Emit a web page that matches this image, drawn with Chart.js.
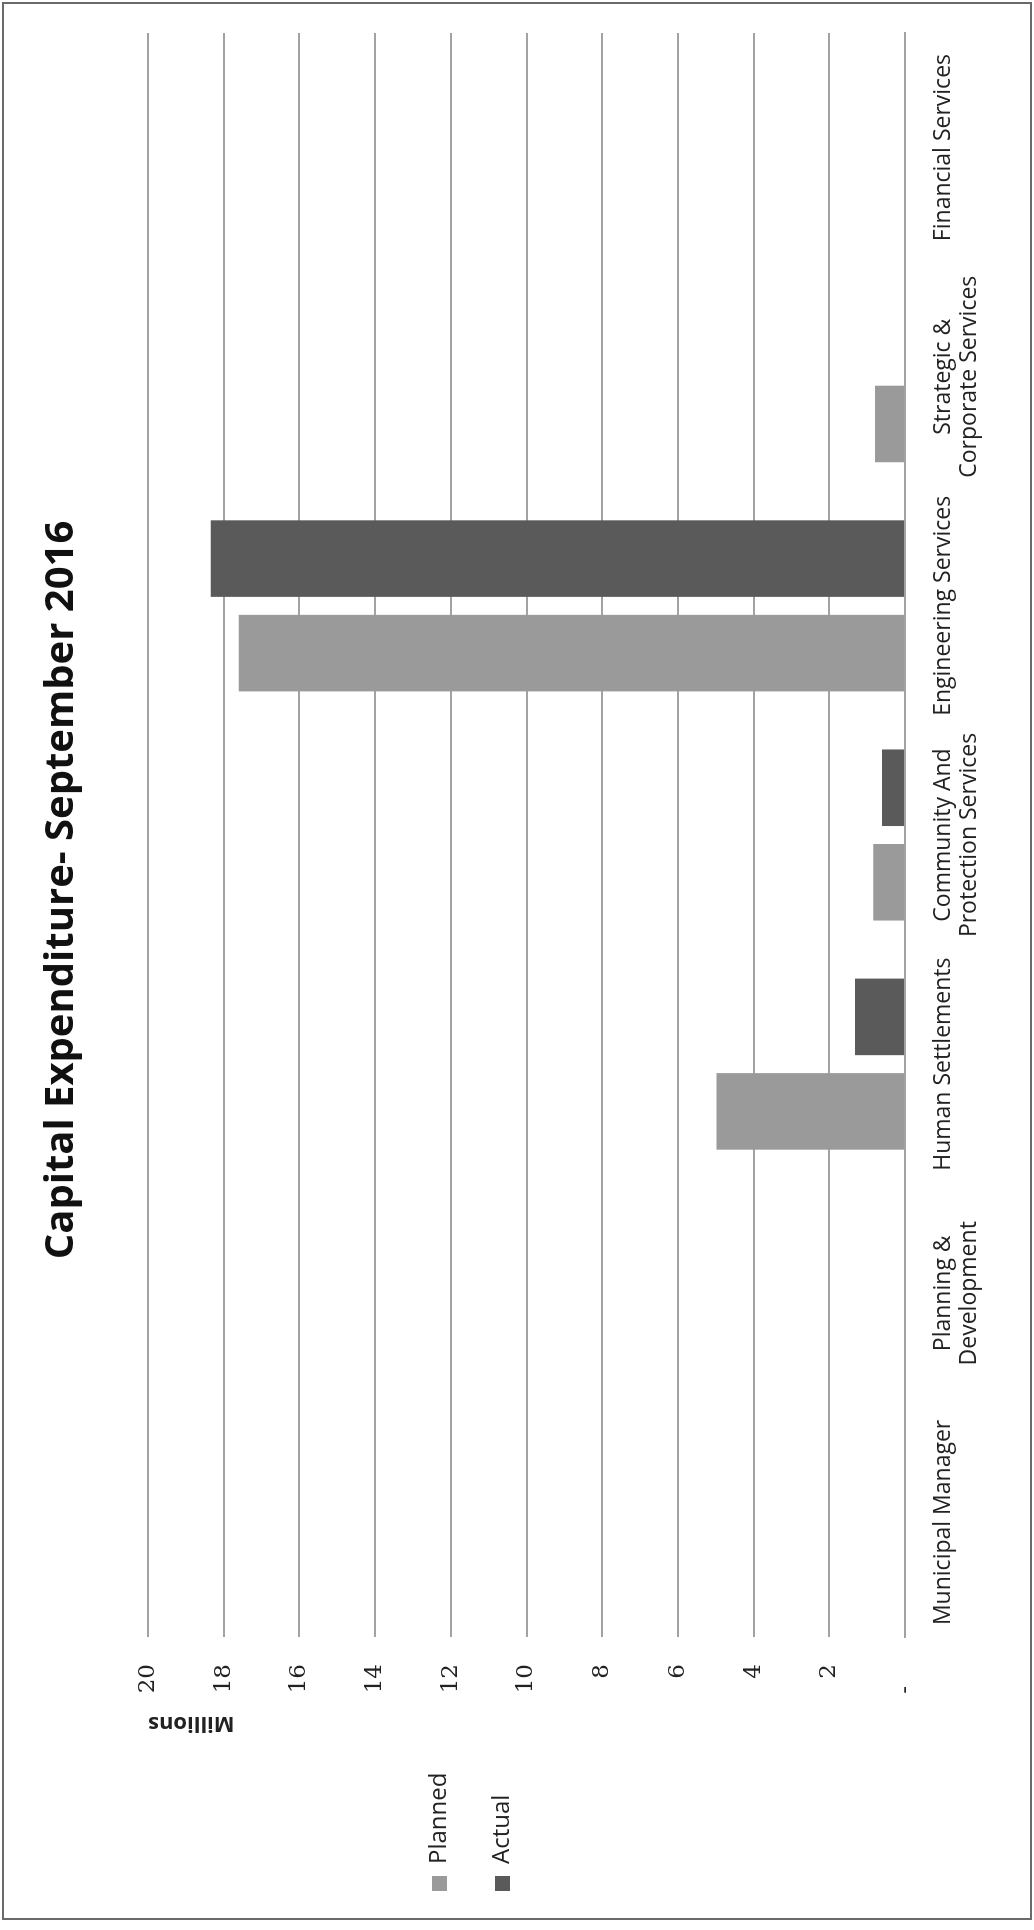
<!DOCTYPE html>
<html>
<head>
<meta charset="utf-8">
<title>Capital Expenditure - September 2016</title>
<script src="https://cdn.jsdelivr.net/npm/chart.js@4.4.1/dist/chart.umd.min.js"></script>
<style>
  html, body { margin: 0; padding: 0; background: #fff; overflow: hidden; }
  #page { position: relative; width: 1034px; height: 1930px; }
  #frame { position: absolute; left: 2px; top: 2px; width: 1030px; height: 1918px;
           box-sizing: border-box; border: 2px solid #6a6a6a; }
  /* the sheet is laid out landscape and turned a quarter to the left */
  #sheet { position: absolute; left: 0; top: 0; width: 1930px; height: 1034px;
           transform-origin: 0 0; transform: translateY(1930px) rotate(-90deg); }
</style>
</head>
<body>
<div id="page">
  <div id="sheet"><canvas id="capexChart" width="1930" height="1034"></canvas></div>
  <div id="frame"></div>
</div>
<script>
// --- data (millions) ---
const departments = [
    'Municipal Manager',
    ['Planning &', 'Development'],
    'Human Settlements',
    ['Community And', 'Protection Services'],
    'Engineering Services',
    ['Strategic &', 'Corporate Services'],
    'Financial Services'
];
const plannedSpend = [0, 0, 4.98, 0.84, 17.6, 0.79, 0];
const actualSpend  = [0, 0, 1.32, 0.61, 18.34, 0, 0];
const seriesNames  = ['Planned', 'Actual'];
const axisMax = 20;
const axisStep = 2;

// --- layout targets on the landscape sheet ---
const PLOT_LEFT = 293;
const PLOT_BOTTOM = 905;
const TITLE_CENTER_X = 1040;
const LEGEND_SHIFT = -46;

const GRID = '#a2a2a2';
const TEXT = '#222';

// moves the title and legend after Chart.js has done its layout
const nudgeBoxes = {
    id: 'nudgeBoxes',
    afterLayout(chart) {
        const t = chart.titleBlock;
        if (t) {
            const d = TITLE_CENTER_X - (t.left + t.right) / 2;
            t.left += d; t.right += d;
        }
        const lg = chart.legend;
        if (lg) { lg.top += LEGEND_SHIFT; lg.bottom += LEGEND_SHIFT; }
    }
};

const ctx = document.getElementById('capexChart').getContext('2d');
const capexChart = new Chart(ctx, {
    type: 'bar',
    data: {
        labels: departments,
        datasets: [
            { label: seriesNames[0], data: plannedSpend, backgroundColor: '#9a9a9a' },
            { label: seriesNames[1], data: actualSpend, backgroundColor: '#5a5a5a' }
        ]
    },
    options: {
        responsive: false,
        animation: false,
        devicePixelRatio: 1,
        categoryPercentage: 0.825,
        barPercentage: 0.81,
        layout: { padding: { left: 0, right: 33, top: 0, bottom: 0 } },
        scales: {
            x: {
                grid: { display: false, drawTicks: false },
                border: { display: true, color: GRID, width: 2 },
                ticks: {
                    padding: 26,
                    maxRotation: 0,
                    autoSkip: false,
                    color: TEXT,
                    font: { family: 'Open Sans', size: 23, lineHeight: 1.12 }
                },
                afterFit: (s) => { s.height = 1034 - PLOT_BOTTOM; }
            },
            y: {
                min: 0,
                max: axisMax,
                grid: { color: GRID, lineWidth: 2, drawTicks: false },
                border: { display: false },
                ticks: {
                    stepSize: axisStep,
                    padding: 27,
                    color: TEXT,
                    font: { family: 'DejaVu Serif', size: 23 },
                    callback: (v) => v === 0 ? '-   ' : v
                },
                title: {
                    display: true,
                    text: 'Millions',
                    align: 'end',
                    color: TEXT,
                    padding: { top: 26, bottom: 4 },
                    font: { family: 'Open Sans', size: 22, weight: 'bold' }
                },
                afterFit: (s) => {
                    const lw = s.chart.legend ? s.chart.legend.width : 0;
                    s.width = PLOT_LEFT - lw;
                }
            }
        },
        plugins: {
            title: {
                display: true,
                text: 'Capital Expenditure- September 2016',
                color: '#111',
                padding: { top: 38, bottom: 62 },
                font: { family: 'Open Sans', size: 40, weight: 'bold' }
            },
            legend: {
                position: 'left',
                labels: {
                    boxWidth: 15,
                    boxHeight: 15,
                    padding: 39,
                    color: TEXT,
                    font: { family: 'Open Sans', size: 24 }
                }
            },
            tooltip: { enabled: false }
        }
    },
    plugins: [nudgeBoxes]
});
</script>
</body>
</html>
